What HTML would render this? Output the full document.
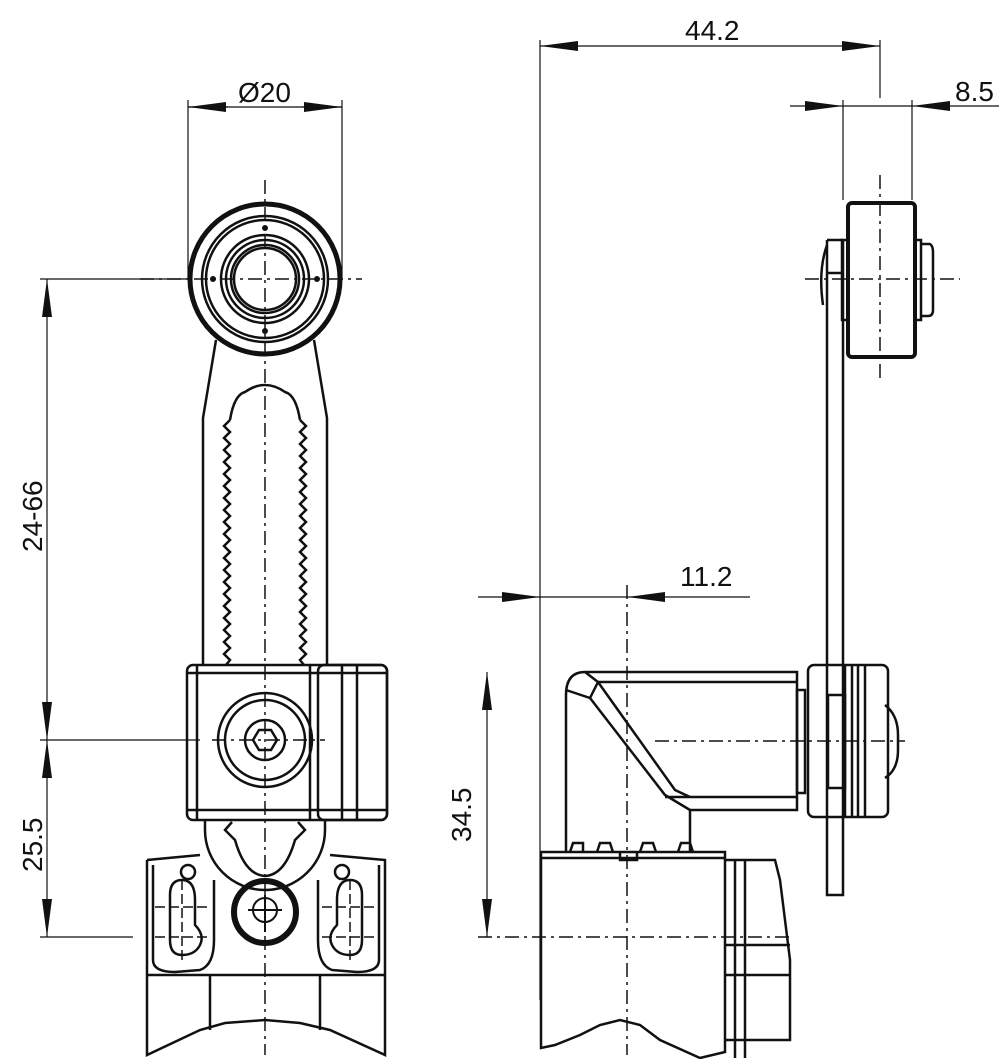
<!DOCTYPE html>
<html><head><meta charset="utf-8"><style>
html,body{margin:0;padding:0;background:#fff;}
svg{display:block;}
text{font-family:"Liberation Sans",sans-serif;font-size:28px;fill:#111;}
</style></head><body>
<svg width="999" height="1059" viewBox="0 0 999 1059" xmlns="http://www.w3.org/2000/svg">
<defs>
<marker id="a" viewBox="0 0 38 10" refX="38" refY="5" markerWidth="38" markerHeight="10" markerUnits="userSpaceOnUse" orient="auto"><path d="M0,0 L38,5 L0,10Z" fill="#111"/></marker>
</defs>
<g fill="none" stroke="#111">
<g stroke-width="1.5" stroke-dasharray="14,5,3,5">
<line x1="265" y1="180" x2="265" y2="1055"/>
<line x1="140" y1="279" x2="362" y2="279"/>
<line x1="212" y1="740" x2="325" y2="740"/>
</g>
<g stroke-width="1.2">
<line x1="188" y1="100" x2="188" y2="279"/>
<line x1="342" y1="100" x2="342" y2="279"/>
<line x1="40" y1="279" x2="190" y2="279"/>
<line x1="40" y1="740" x2="200" y2="740"/>
<line x1="40" y1="937" x2="133" y2="937"/>
<line x1="228" y1="107" x2="188" y2="107" marker-end="url(#a)"/>
<line x1="302" y1="107" x2="342" y2="107" marker-end="url(#a)"/>
<line x1="188" y1="107" x2="342" y2="107"/>
<line x1="47" y1="510" x2="47" y2="279" marker-end="url(#a)"/>
<line x1="47" y1="510" x2="47" y2="740" marker-end="url(#a)"/>
<line x1="47" y1="840" x2="47" y2="740" marker-end="url(#a)"/>
<line x1="47" y1="840" x2="47" y2="937" marker-end="url(#a)"/>
</g>
<circle cx="265" cy="279" r="75" stroke-width="5"/>
<g stroke-width="2.5">
<circle cx="265" cy="279" r="63"/>
<circle cx="265" cy="279" r="59"/>
<circle cx="265" cy="279" r="44"/>
<circle cx="265" cy="279" r="39"/>
<circle cx="265" cy="279" r="34"/>
<circle cx="265" cy="279" r="31"/>
</g>
<g fill="#111" stroke="none">
<circle cx="265" cy="228" r="3"/><circle cx="265" cy="331" r="3"/>
<circle cx="213" cy="279" r="3"/><circle cx="317" cy="279" r="3"/>
</g>
<g stroke-width="2.5">
<path d="M216,340 L203,418 L203,665"/>
<path d="M314,340 L327,418 L327,665"/>
<path d="M230,420 Q234,395 245,392 Q265,378 285,392 Q296,395 300,420"/>
<polyline points="230,420 224,426 230,432 224,438 230,444 224,450 230,456 224,462 230,468 224,474 230,480 224,486 230,492 224,498 230,504 224,510 230,516 224,522 230,528 224,534 230,540 224,546 230,552 224,558 230,564 224,570 230,576 224,582 230,588 224,594 230,600 224,606 230,612 224,618 230,624 224,630 230,636 224,642 230,648 224,654 230,660 226,665"/>
<polyline points="300,420 306,426 300,432 306,438 300,444 306,450 300,456 306,462 300,468 306,474 300,480 306,486 300,492 306,498 300,504 306,510 300,516 306,522 300,528 306,534 300,540 306,546 300,552 306,558 300,564 306,570 300,576 306,582 300,588 306,594 300,600 306,606 300,612 306,618 300,624 306,630 300,636 306,642 300,648 306,654 300,660 304,665"/>
</g>
<g stroke-width="2.5">
<rect x="187" y="665" width="200" height="155" rx="6"/>
<line x1="187" y1="673" x2="387" y2="673"/>
<line x1="187" y1="810" x2="387" y2="810"/>
<line x1="197" y1="665" x2="197" y2="820"/>
<line x1="310" y1="665" x2="310" y2="820"/>
<rect x="318" y="665" width="69" height="155" rx="6"/>
<line x1="342" y1="665" x2="342" y2="820"/>
<line x1="357" y1="665" x2="357" y2="820"/>
<circle cx="265" cy="740" r="47"/>
<circle cx="265" cy="740" r="40"/>
<circle cx="265" cy="740" r="20"/>
<polygon points="253,740 259,730 271,730 277,740 271,750 259,750"/>
</g>
<g stroke-width="2.5">
<path d="M205,820 L205,830 A60,60 0 0 0 325,830 L325,820"/>
<path d="M232,822 L225,830 L235,840 Q245,875 265,876 Q285,875 295,840 L305,830 L298,822"/>
<path d="M147,860 L147,1055 L200,1030 L225,1023 L265,1020 L300,1023 L330,1030 L385,1055 L385,860 L330,855"/>
<path d="M147,860 L200,855"/>
<line x1="147" y1="975" x2="385" y2="975"/>
<line x1="210" y1="975" x2="210" y2="1030"/>
<line x1="320" y1="975" x2="320" y2="1030"/>
<path d="M153,865 L153,960 Q153,972 175,972 L200,970 Q214,965 214,940 L214,880"/>
<path d="M379,865 L379,960 Q379,972 357,972 L332,970 Q318,965 318,940 L318,880"/>
<path d="M170,895 Q170,880 182,880 Q195,880 195,900 L195,925 Q205,935 200,945 Q195,955 182,955 Q170,955 170,940Z"/>
<path d="M362,895 Q362,880 350,880 Q337,880 337,900 L337,925 Q327,935 332,945 Q337,955 350,955 Q362,955 362,940Z"/>
<circle cx="188" cy="872" r="7"/><circle cx="342" cy="872" r="7"/>
</g>
<circle cx="265" cy="912" r="31" stroke-width="6"/>
<g stroke-width="2"><circle cx="265" cy="910" r="12"/><line x1="248" y1="910" x2="282" y2="910"/><line x1="265" y1="895" x2="265" y2="932"/></g>
<g stroke-width="1.5" stroke-dasharray="10,4">
<line x1="155" y1="907" x2="210" y2="907"/><line x1="155" y1="937" x2="210" y2="937"/>
<line x1="182" y1="880" x2="182" y2="960"/>
<line x1="322" y1="907" x2="378" y2="907"/><line x1="322" y1="937" x2="378" y2="937"/>
<line x1="350" y1="880" x2="350" y2="960"/>
</g>

<g stroke-width="1.5" stroke-dasharray="14,5,3,5">
<line x1="880" y1="175" x2="880" y2="380"/>
<line x1="805" y1="279" x2="960" y2="279"/>
<line x1="627" y1="585" x2="627" y2="1055"/>
<line x1="655" y1="741" x2="905" y2="741"/>
<line x1="478" y1="937" x2="790" y2="937"/>
</g>
<g stroke-width="1.2">
<line x1="540" y1="40" x2="540" y2="1000"/>
<line x1="880" y1="40" x2="880" y2="98"/>
<line x1="843" y1="100" x2="843" y2="200"/>
<line x1="912" y1="100" x2="912" y2="200"/>
<line x1="700" y1="46" x2="540" y2="46" marker-end="url(#a)"/>
<line x1="700" y1="46" x2="880" y2="46" marker-end="url(#a)"/>
<line x1="790" y1="106" x2="843" y2="106" marker-end="url(#a)"/>
<line x1="843" y1="106" x2="912" y2="106"/>
<line x1="999" y1="106" x2="912" y2="106" marker-end="url(#a)"/>
<line x1="478" y1="597" x2="540" y2="597" marker-end="url(#a)"/>
<line x1="540" y1="597" x2="627" y2="597"/>
<line x1="750" y1="597" x2="627" y2="597" marker-end="url(#a)"/>
<line x1="487" y1="800" x2="487" y2="672" marker-end="url(#a)"/>
<line x1="487" y1="800" x2="487" y2="937" marker-end="url(#a)"/>
</g>
<rect x="848" y="203" width="67" height="154" rx="4" stroke-width="4"/>
<g stroke-width="2.5">
<rect x="842" y="240" width="6" height="80"/>
<rect x="915" y="240" width="6" height="80"/>
<path d="M921,244 L930,244 Q933,246 933,252 L933,310 Q933,316 928,316 L921,316"/>
<path d="M827,240 L843,240 M827,240 L827,895 L843,895 L843,240"/>
<path d="M827,245 Q818,270 823,305"/>
<line x1="827" y1="273" x2="843" y2="273"/>
</g>
<g stroke-width="2.5">
<path d="M566,852 L566,695 Q566,672 585,672 L797,672 L797,810 L690,810 L690,852"/>
<line x1="598" y1="682" x2="797" y2="682"/>
<line x1="665" y1="797" x2="797" y2="797"/>
<path d="M566,690 L590,698 L598,682 L585,672"/>
<path d="M590,698 L665,795 L690,810 M598,682 L675,790 L690,797"/>
<rect x="797" y="690" width="8" height="103"/>
<rect x="808" y="665" width="80" height="152" rx="6"/>
<line x1="845" y1="665" x2="845" y2="817"/>
<line x1="852" y1="665" x2="852" y2="817"/>
<line x1="858" y1="665" x2="858" y2="817"/>
<line x1="865" y1="665" x2="865" y2="817"/>
<rect x="828" y="695" width="17" height="93"/>
<path d="M885,705 Q898,715 898,735 L898,750 Q898,770 885,778"/>
<path d="M541,852 L725,852 L725,1052 L700,1058 L660,1040 L640,1025 L620,1020 L600,1025 L580,1035 L555,1045 L541,1048Z"/>
<line x1="541" y1="858" x2="725" y2="858"/>
<path d="M570,852 L573,843 L583,843 L583,852 M597,852 L600,843 L610,843 L613,852 M640,852 L643,843 L653,843 L656,852 M678,852 L681,843 L690,843 L693,852"/>
<path d="M620,852 L620,860 L637,860 L637,852"/>
<path d="M725,860 L775,860 L780,880 L790,960 L790,1040 L725,1040"/>
<line x1="735" y1="860" x2="735" y2="1058"/>
<line x1="745" y1="860" x2="745" y2="1058"/>
<line x1="725" y1="945" x2="790" y2="945"/>
<line x1="725" y1="975" x2="790" y2="975"/>
</g>
</g>
<text x="238" y="102">Ø20</text>
<text x="685" y="40">44.2</text>
<text x="955" y="101">8.5</text>
<text x="680" y="586">11.2</text>
<text transform="translate(42,552) rotate(-90)">24-66</text>
<text transform="translate(42,872) rotate(-90)">25.5</text>
<text transform="translate(471,842) rotate(-90)">34.5</text>
</svg>
</body></html>
